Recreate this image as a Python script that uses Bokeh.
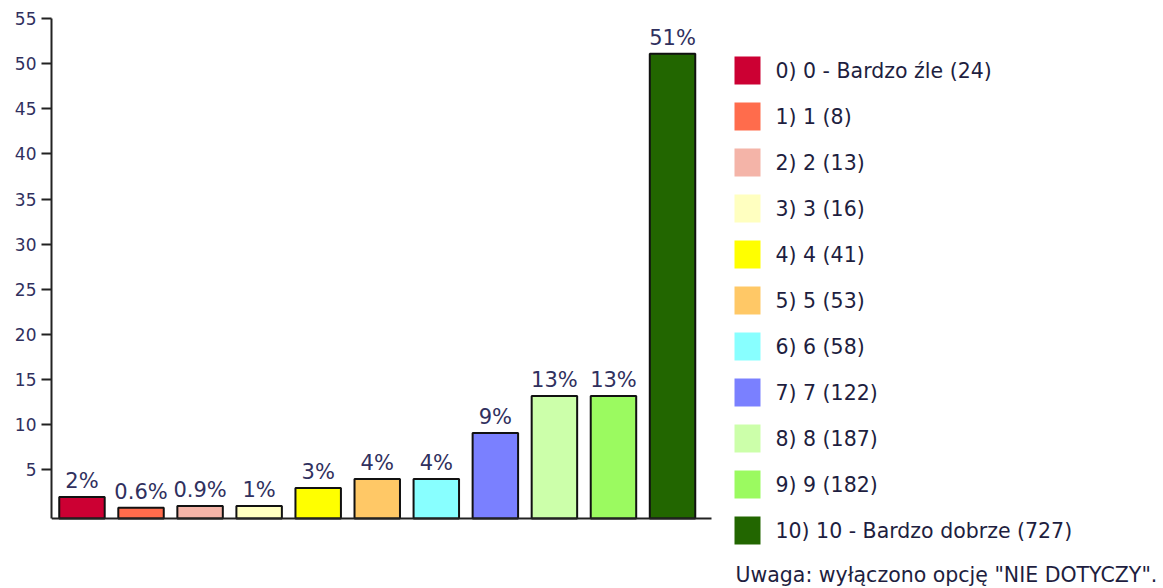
from bokeh.plotting import figure
from bokeh.models import ColumnDataSource, Range1d, FixedTicker, LabelSet
from bokeh.core.properties import value
from bokeh.embed import file_html
from bokeh.resources import INLINE

# ---------------- data ----------------
categories = ["0) 0 - Bardzo źle", "1) 1", "2) 2", "3) 3", "4) 4", "5) 5",
              "6) 6", "7) 7", "8) 8", "9) 9", "10) 10 - Bardzo dobrze"]
counts = [24, 8, 13, 16, 41, 53, 58, 122, 187, 182, 727]
percent = [2.0, 0.8, 1.0, 1.0, 3.0, 4.0, 4.0, 9.1, 13.2, 13.2, 51.1]
bar_labels = ["2%", "0.6%", "0.9%", "1%", "3%", "4%", "4%", "9%", "13%", "13%", "51%"]
colors = ["#CC0033", "#FF6C4C", "#F4B4A8", "#FFFFC0", "#FFFF00", "#FFC866",
          "#88FFFF", "#7A80FF", "#CCFFAA", "#9BFA60", "#226600"]
y_ticks = [5, 10, 15, 20, 25, 30, 35, 40, 45, 50, 55]
note = 'Uwaga: wyłączono opcję "NIE DOTYCZY".'

FONT = "DejaVu Sans"
TEXT_NAVY = "#30305e"
LEGEND_TEXT = "#1e1e40"

W, H = 1163, 588
# pixel geometry of the bar area
AX_L, AX_R, AX_T, AX_B = 51, 711, 18, 518
Y_MAX, Y_START = 55, -0.38
X_START, X_END = -0.516, 10.66

px_per_x = (AX_R - AX_L) / (X_END - X_START)
px_per_y = (AX_B - AX_T) / (Y_MAX - Y_START)
X_FULL_END = X_START + (W - AX_L) / px_per_x
Y_FULL_START = Y_START - (H - AX_B) / px_per_y

# ---------------- figure ----------------
xs = list(range(len(categories)))
src = ColumnDataSource(dict(x=xs, top=percent, label=bar_labels, color=colors))

p = figure(width=W, height=H, output_backend="svg", toolbar_location=None,
           x_axis_location="above",
           x_range=Range1d(X_START, X_FULL_END), y_range=Range1d(Y_FULL_START, Y_MAX))
p.extra_x_ranges = {"px": Range1d(AX_L, W)}
p.extra_y_ranges = {"px": Range1d(H, AX_T)}
p.min_border = 0
p.min_border_left = AX_L
p.min_border_top = AX_T
p.outline_line_color = None
p.xgrid.grid_line_color = None
p.ygrid.grid_line_color = None

p.vbar(x="x", top="top", bottom=Y_START, width=0.77, fill_color="color",
       line_color="#111111", line_width=2, source=src)

labels = LabelSet(x="x", y="top", text="label", source=src, text_align="center",
                  text_baseline="alphabetic", y_offset=9,
                  text_font=value(FONT), text_font_size="21px", text_color=TEXT_NAVY)
p.add_layout(labels)

yax = p.yaxis[0]
yax.ticker = FixedTicker(ticks=y_ticks)
yax.bounds = (Y_START, Y_MAX)
yax.axis_line_color = "#222222"
yax.axis_line_width = 2
yax.major_tick_line_color = "#222222"
yax.major_tick_line_width = 2
yax.major_tick_out = 10
yax.major_tick_in = 0
yax.minor_tick_line_color = None
yax.major_label_standoff = 5
yax.major_label_text_font = FONT
yax.major_label_text_font_size = "17px"
yax.major_label_text_color = TEXT_NAVY

xax = p.xaxis[0]
xax.ticker = FixedTicker(ticks=[])
xax.fixed_location = Y_START
xax.bounds = (X_START - 6 / px_per_x, X_END)
xax.axis_line_color = "#222222"
xax.axis_line_width = 2
xax.major_tick_line_color = None
xax.minor_tick_line_color = None
xax.major_tick_out = 0
xax.major_tick_in = 0
xax.major_label_standoff = 0
xax.axis_label_standoff = 0
xax.major_label_text_font_size = "0px"

# ---------------- legend (drawn in pixel coordinates) ----------------
LEG_X, LEG_Y0, LEG_STEP = 747, 70, 46
SQ_W, SQ_H, TXT_X = 26, 28, 775
leg_y = [LEG_Y0 + i * LEG_STEP for i in range(len(categories))]
leg_text = [f"{c} ({n})" for c, n in zip(categories, counts)]
lsrc = ColumnDataSource(dict(y=leg_y, text=leg_text, color=colors))

p.rect(x=LEG_X, y="y", width=SQ_W, height=SQ_H, fill_color="color", line_color=None,
       source=lsrc, x_range_name="px", y_range_name="px")
p.text(x=TXT_X, y="y", text="text", source=lsrc, text_baseline="middle",
       text_font=value(FONT), text_font_size=value("20.5px"), text_color=LEGEND_TEXT,
       x_range_name="px", y_range_name="px")
p.text(x=[735], y=[574], text=[note], text_baseline="middle",
       text_font=value(FONT), text_font_size=value("20.5px"), text_color=LEGEND_TEXT,
       x_range_name="px", y_range_name="px")

open("out.html", "w").write(file_html(p, INLINE))
